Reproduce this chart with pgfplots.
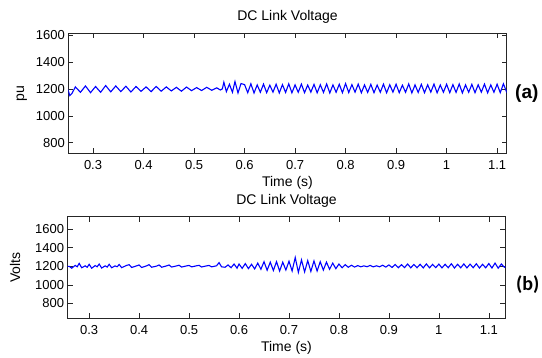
\documentclass[border=0pt]{standalone}
\usepackage{pgfplots}
\pgfplotsset{compat=1.18}
\usepackage{fontspec}
\setmainfont{Liberation Sans}
\newfontfamily\carlito{Carlito}
\begin{document}
\begin{tikzpicture}
\useasboundingbox (0pt,0pt) rectangle (542pt,358pt);
\pgfplotsset{
  mystyle/.style={
    scale only axis,
    axis line style={black!85, line width=0.7pt},
    tick align=inside, major tick length=5pt,
    tick style={black!85, line width=0.6pt},
    /pgf/number format/assume math mode=true,
    ticklabel style={font=\fontsize{13}{13}\selectfont},
    label style={font=\fontsize{14}{14}\selectfont},
    title style={font=\fontsize{14}{14}\selectfont, at={(0.5,1)}, anchor=base, yshift=6.3pt},
    xtick={0.3,0.4,0.5,0.6,0.7,0.8,0.9,1.0,1.1},
    xticklabels={0.3,0.4,0.5,0.6,0.7,0.8,0.9,1,1.1},
    ytick={800,1000,1200,1400,1600},
    yticklabels={800,1000,1200,1400,1600},
    xticklabel style={anchor=base, yshift=-16.7pt},
    xlabel style={at={(0.5,0)}, anchor=base, yshift=-33.4pt},
    xlabel={Time (s)},
    title={DC Link Voltage},
  }
}
\begin{axis}[mystyle, name=top,
  at={(68.3pt,204.7pt)}, anchor=south west, width=438.4pt, height=120pt,
  xmin=0.251, xmax=1.119, ymin=721, ymax=1614,
  ylabel={pu}, ylabel style={at={(-0.1063,0.5)}, anchor=center}]
\addplot[blue, line width=1.1pt] table {
0.250 1200
0.254 1150
0.258 1165
0.265 1215
0.275 1175
0.285 1222
0.295 1172
0.305 1218
0.315 1175
0.325 1225
0.335 1178
0.345 1222
0.355 1180
0.365 1220
0.375 1177
0.385 1218
0.395 1182
0.405 1215
0.415 1180
0.425 1218
0.435 1183
0.445 1215
0.455 1185
0.465 1212
0.475 1183
0.485 1214
0.495 1187
0.505 1210
0.515 1188
0.525 1212
0.535 1190
0.545 1208
0.552 1192
0.556 1200
0.559 1250
0.564 1180
0.570 1235
0.576 1175
0.581 1255
0.587 1170
0.593 1240
0.6 1232
0.60625 1172
0.6125 1238
0.61875 1170
0.625 1230
0.63125 1175
0.6375 1236
0.64375 1172
0.65 1228
0.65625 1176
0.6625 1235
0.66875 1170
0.675 1232
0.68125 1174
0.6875 1238
0.69375 1171
0.7 1230
0.70625 1175
0.7125 1236
0.71875 1172
0.725 1229
0.73125 1176
0.7375 1234
0.74375 1171
0.75 1231
0.75625 1174
0.7625 1237
0.76875 1170
0.775 1230
0.78125 1175
0.7875 1235
0.79375 1172
0.8 1240
0.80625 1173
0.8125 1232
0.81875 1176
0.825 1236
0.83125 1171
0.8375 1230
0.84375 1174
0.85 1234
0.85625 1172
0.8625 1229
0.86875 1175
0.875 1236
0.88125 1171
0.8875 1231
0.89375 1176
0.9 1235
0.90625 1172
0.9125 1228
0.91875 1175
0.925 1237
0.93125 1170
0.9375 1230
0.94375 1174
0.95 1234
0.95625 1172
0.9625 1231
0.96875 1176
0.975 1236
0.98125 1171
0.9875 1229
0.99375 1175
1.0 1235
1.00625 1172
1.0125 1232
1.01875 1174
1.025 1237
1.03125 1170
1.0375 1230
1.04375 1175
1.05 1234
1.05625 1172
1.0625 1231
1.06875 1176
1.075 1236
1.08125 1171
1.0875 1230
1.09375 1175
1.1 1235
1.10625 1172
1.1125 1238
1.11875 1178
1.125 1240
};
\end{axis}
\begin{axis}[mystyle, name=bot,
  at={(67.7pt,39.7pt)}, anchor=south west, width=437.6pt, height=101.6pt,
  xmin=0.257, xmax=1.133, ymin=640, ymax=1735,
  ylabel={Volts}, ylabel style={at={(-0.1204,0.5)}, anchor=center}]
\addplot[blue, line width=1.1pt] table {
0.255 1200
0.260 1200
0.265 1180
0.272 1210
0.276 1195
0.280 1232
0.285 1185
0.292 1205
0.296 1190
0.300 1222
0.305 1180
0.312 1208
0.316 1195
0.320 1225
0.325 1182
0.332 1205
0.336 1192
0.340 1222
0.345 1185
0.352 1205
0.356 1195
0.360 1220
0.365 1186
0.375 1210
0.380 1218
0.385 1188
0.395 1205
0.400 1215
0.405 1188
0.415 1205
0.420 1218
0.425 1190
0.435 1203
0.440 1215
0.445 1190
0.455 1205
0.460 1214
0.465 1192
0.475 1205
0.480 1212
0.485 1192
0.495 1205
0.500 1210
0.505 1194
0.515 1206
0.520 1211
0.525 1193
0.535 1205
0.540 1210
0.545 1194
0.555 1206
0.560 1240
0.565 1195
0.572 1190
0.578 1215
0.584 1185
0.590 1225
0.596 1180
0.6 1225
0.60625 1178
0.6125 1230
0.61875 1175
0.625 1222
0.63125 1172
0.6375 1235
0.64375 1168
0.65 1250
0.65625 1158
0.6625 1245
0.66875 1155
0.675 1250
0.68125 1150
0.6875 1245
0.69375 1160
0.7 1255
0.70625 1150
0.7125 1295
0.71875 1135
0.725 1270
0.73125 1140
0.7375 1262
0.74375 1145
0.75 1258
0.75625 1150
0.7625 1250
0.76875 1160
0.775 1245
0.78125 1168
0.7875 1235
0.79375 1175
0.8 1225
0.80625 1185
0.8125 1218
0.81875 1190
0.825 1212
0.83125 1192
0.8375 1208
0.84375 1195
0.85 1205
0.85625 1196
0.8625 1210
0.86875 1194
0.875 1206
0.88125 1195
0.8875 1212
0.89375 1192
0.9 1215
0.90625 1188
0.9125 1220
0.91875 1185
0.925 1218
0.93125 1186
0.9375 1225
0.94375 1184
0.95 1220
0.95625 1185
0.9625 1222
0.96875 1183
0.975 1226
0.98125 1184
0.9875 1221
0.99375 1186
1.0 1224
1.00625 1183
1.0125 1222
1.01875 1185
1.025 1228
1.03125 1182
1.0375 1222
1.04375 1184
1.05 1226
1.05625 1183
1.0625 1224
1.06875 1185
1.075 1228
1.08125 1182
1.0875 1222
1.09375 1184
1.1 1230
1.10625 1182
1.1125 1235
1.11875 1180
1.125 1225
1.13125 1190
1.1375 1215
};
\end{axis}
\node[anchor=west, inner sep=0pt, xshift=8.3pt, font=\bfseries\fontsize{19}{19}\selectfont] at (top.east) {(a)};
\node[anchor=west, inner sep=0pt, xshift=10.7pt, yshift=-17.5pt, font=\carlito\bfseries\fontsize{20}{20}\selectfont] at (bot.east) {(b)};
\end{tikzpicture}
\end{document}
